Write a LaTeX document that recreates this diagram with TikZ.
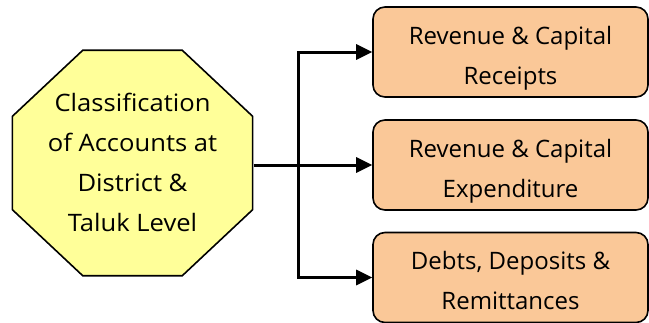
\documentclass[tikz,border=0pt]{standalone}
\usepackage{fontspec}
\setmainfont{Open Sans}
\usetikzlibrary{shapes.geometric, arrows.meta}
\definecolor{octfill}{HTML}{FFFF99}
\definecolor{boxfill}{HTML}{FAC898}
\tikzset{
	oct/.style={regular polygon, regular polygon sides=8, minimum size=244pt, xscale=1.066, draw, line width=1.6pt, fill=octfill, align=center, inner sep=0pt, text height=137pt, text depth=0pt},
	headbox/.style={rectangle, rounded corners=12pt, minimum width=275pt, minimum height=90pt, draw, line width=1.6pt, fill=boxfill, align=center, text height=64pt, text depth=0pt},
	arr/.style={line width=3pt, -{Triangle[length=16pt, width=15pt]}}
}

\begin{document}
\begin{tikzpicture}[x=1pt, y=-1pt, font=\fontsize{24}{40}\selectfont]
\useasboundingbox (0,0) rectangle (649,322);
\node (cls) [oct] at (132.5,163) {Classification\\of Accounts at\\District \&\\Taluk Level};
\node (rec) [headbox] at (510.5,52) {Revenue \& Capital\\Receipts};
\node (exp) [headbox] at (510.5,165) {Revenue \& Capital\\Expenditure};
\node (debt) [headbox] at (510.5,277.5) {Debts, Deposits \&\\Remittances};
\coordinate (split) at (298,165);
\draw[arr] (cls.east |- exp) -- (exp.west);
\draw[arr] (split) |- (rec.west);
\draw[arr] (split) |- (debt.west);
\end{tikzpicture}
\end{document}
